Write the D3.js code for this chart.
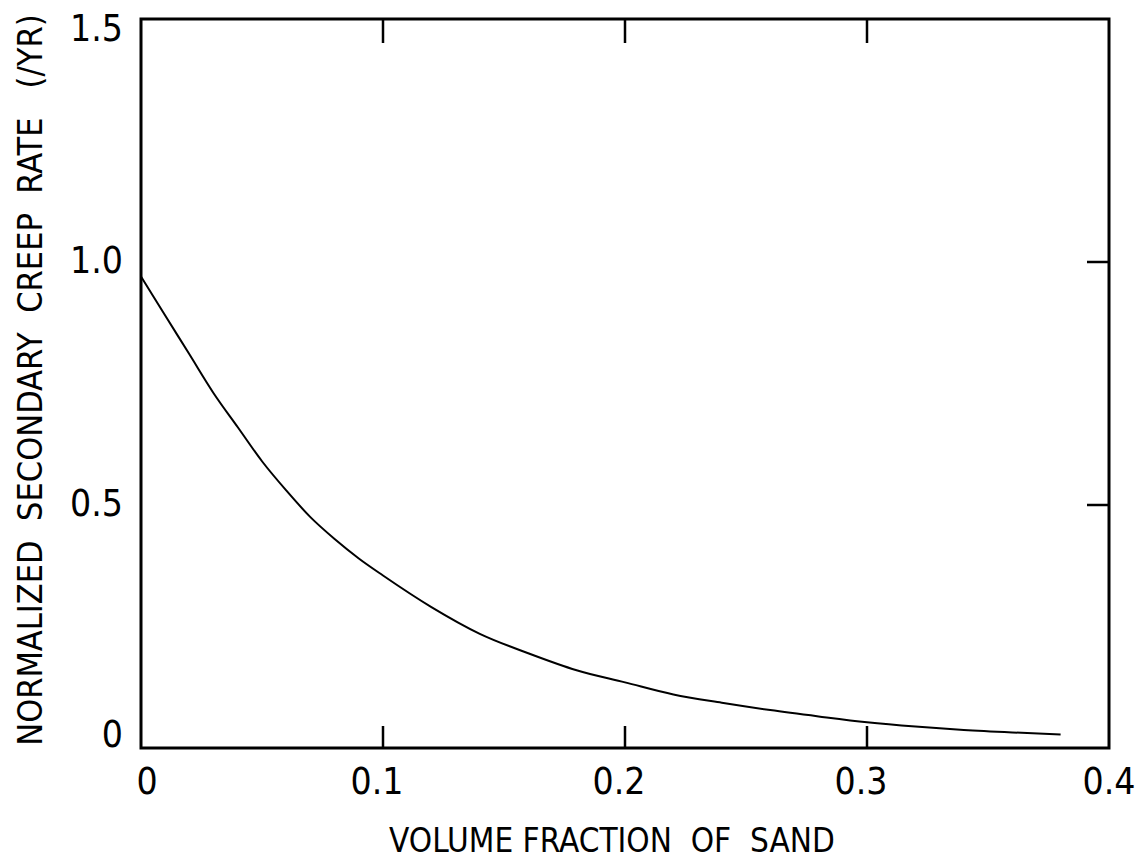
<!DOCTYPE html>
<html>
<head>
<meta charset="utf-8">
<script src="https://cdn.jsdelivr.net/npm/d3@7"></script>
<style>
  html, body { margin: 0; padding: 0; background: #fff; }
  svg text { font-family: "Liberation Sans Narrow", "DejaVu Sans Condensed", "Liberation Sans", sans-serif; fill: #000; }
</style>
</head>
<body>
<svg id="chart" width="1138" height="867"></svg>
<script>
// ---- data ----
const volumeFraction = [0, 0.01, 0.02, 0.03, 0.04, 0.05, 0.06, 0.07, 0.08, 0.09, 0.10, 0.12, 0.14, 0.16, 0.18, 0.20, 0.22, 0.24, 0.26, 0.28, 0.30, 0.32, 0.34, 0.36, 0.38];
const creepRate = [0.97, 0.89, 0.81, 0.73, 0.66, 0.59, 0.53, 0.475, 0.43, 0.39, 0.355, 0.29, 0.235, 0.195, 0.16, 0.135, 0.11, 0.093, 0.078, 0.065, 0.053, 0.044, 0.037, 0.032, 0.028];
const xTicks = [0, 0.1, 0.2, 0.3, 0.4];
const xTickLabels = ["0", "0.1", "0.2", "0.3", "0.4"];
const yTicks = [0, 0.5, 1.0, 1.5];
const yTickLabels = ["0", "0.5", "1.0", "1.5"];
const xTitle = "VOLUME FRACTION  OF  SAND";
const yTitle = "NORMALIZED  SECONDARY  CREEP  RATE   (/YR)";

// ---- layout ----
const svg = d3.select("#chart");
const mLeft = 141, mRight = 1109, mTop = 19, mBottom = 748;
const x = d3.scaleLinear().domain([0, 0.4]).range([mLeft, mRight]);
const y = d3.scaleLinear().domain([0, 1.5]).range([mBottom, mTop]);

// frame
svg.append("rect")
  .attr("x", mLeft).attr("y", mTop)
  .attr("width", mRight - mLeft).attr("height", mBottom - mTop)
  .attr("fill", "none").attr("stroke", "#000").attr("stroke-width", 3);

// inner ticks: bottom & top (interior ticks only)
const innerX = xTicks.slice(1, -1);
svg.append("g").selectAll("line").data(innerX).join("line")
  .attr("x1", d => x(d)).attr("x2", d => x(d))
  .attr("y1", mBottom).attr("y2", mBottom - 22)
  .attr("stroke", "#000").attr("stroke-width", 2.5);
svg.append("g").selectAll("line").data(innerX).join("line")
  .attr("x1", d => x(d)).attr("x2", d => x(d))
  .attr("y1", mTop).attr("y2", mTop + 24)
  .attr("stroke", "#000").attr("stroke-width", 2.5);
// right ticks
const innerY = yTicks.slice(1, -1);
svg.append("g").selectAll("line").data(innerY).join("line")
  .attr("x1", mRight).attr("x2", mRight - 22)
  .attr("y1", d => y(d)).attr("y2", d => y(d))
  .attr("stroke", "#000").attr("stroke-width", 2.5);

// x tick labels
svg.append("g").selectAll("text").data(xTicks).join("text")
  .attr("x", (d, i) => x(d) + (i === 0 ? 6 : (i === xTicks.length - 1 ? 0 : -6)))
  .attr("y", 781)
  .attr("dy", "0.36em")
  .attr("text-anchor", "middle")
  .attr("font-size", 37)
  .text((d, i) => xTickLabels[i]);

// y tick labels
svg.append("g").selectAll("text").data(yTicks).join("text")
  .attr("x", 123)
  .attr("y", (d, i) => {
    if (i === 0) return y(d) - 14;
    if (i === yTicks.length - 1) return y(d) + 9;
    return y(d) - 2;
  })
  .attr("dy", "0.36em")
  .attr("text-anchor", "end")
  .attr("font-size", 37)
  .text((d, i) => yTickLabels[i]);

// titles
svg.append("text")
  .attr("x", 612).attr("y", 840)
  .attr("dy", "0.36em")
  .attr("text-anchor", "middle")
  .attr("font-size", 33)
  .style("white-space", "pre")
  .text(xTitle);

svg.append("text")
  .attr("transform", "translate(30,380) rotate(-90)")
  .attr("dy", "0.36em")
  .attr("text-anchor", "middle")
  .attr("font-size", 34)
  .style("white-space", "pre")
  .text(yTitle);

// curve
const line = d3.line()
  .x((d, i) => x(volumeFraction[i]))
  .y((d, i) => y(creepRate[i]))
  .curve(d3.curveMonotoneX);
svg.append("path")
  .datum(creepRate)
  .attr("d", line)
  .attr("fill", "none")
  .attr("stroke", "#000")
  .attr("stroke-width", 2);
</script>
</body>
</html>
